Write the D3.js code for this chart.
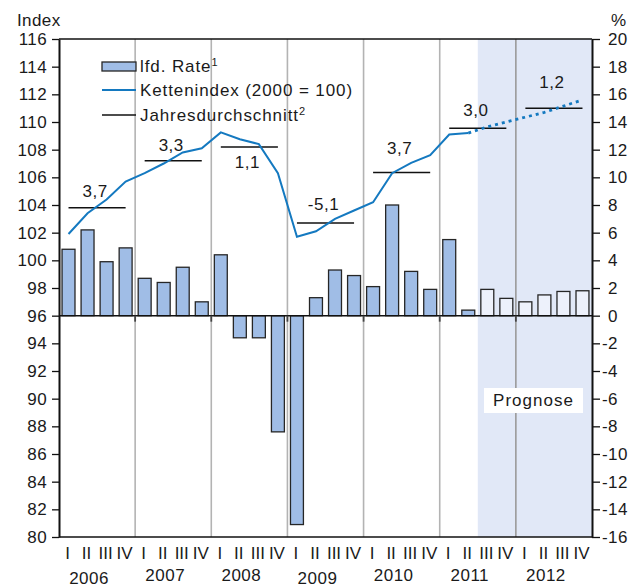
<!DOCTYPE html>
<html>
<head>
<meta charset="utf-8">
<script src="https://cdn.jsdelivr.net/npm/d3@7"></script>
<style>
  body { margin: 0; background: #fff; }
  svg text { font-family: "Liberation Sans", Arial, sans-serif; font-size: 17px; fill: #1a1a1a; }
</style>
</head>
<body>
<svg id="chart" width="634" height="587"></svg>
<script>
// data
const years = [2006, 2007, 2008, 2009, 2010, 2011, 2012]
const quarterNames = ["I", "II", "III", "IV"]
// lfd. Rate, % (annualised)
const rate = [4.8, 6.2, 3.9, 4.9,  2.7, 2.4, 3.5, 1.0,  4.4, -1.6, -1.6, -8.4,
              -15.1, 1.3, 3.3, 2.9,  2.1, 8.0, 3.2, 1.9,  5.5, 0.4, 1.9, 1.25,
              1.0, 1.5, 1.75, 1.8]
// Kettenindex (2000 = 100)
const chainIndex = [101.9, 103.4, 104.4, 105.7,  106.3, 107.0, 107.8, 108.1,
                    109.25, 108.75, 108.4, 106.3,  101.7, 102.1, 103.0, 103.6,
                    104.2, 106.3, 107.05, 107.6,  109.1, 109.2, 109.65, 110.0,
                    110.35, 110.7, 111.15, 111.6]
// Jahresdurchschnitt: level on the index axis and label
const annualLevel = [103.8, 107.2, 108.2, 102.7, 106.35, 109.55, 111.0]
const annualLabels = ["3,7", "3,3", "1,1", "-5,1", "3,7", "3,0", "1,2"]
const lastActual = 21      // 2011 Q2
const forecastStart = 22   // 2011 Q3
const indexTicks = d3.range(80, 117, 2)
const rateTicks = d3.range(-16, 21, 2)

const svg = d3.select("#chart")
const pl = 59, pr = 592, pt = 39, pb = 537
const nq = years.length * 4

const x = d3.scaleBand()
  .domain(d3.range(nq))
  .range([pl, pr])
  .paddingInner(0.32)
  .paddingOuter(0.16)
const xq = d3.scaleLinear().domain([0, nq]).range([pl, pr])
const yL = d3.scaleLinear().domain([80, 116]).range([pb, pt])
const yR = d3.scaleLinear().domain([-16, 20]).range([pb, pt])

// forecast shading
svg.append("rect")
  .attr("x", xq(forecastStart)).attr("y", pt)
  .attr("width", pr - xq(forecastStart)).attr("height", pb - pt)
  .attr("fill", "#e1e8f7")

// year dividers
svg.append("g")
  .selectAll("line")
  .data(years.slice(1)).enter()
  .append("line")
  .attr("x1", (d, i) => xq((i + 1) * 4)).attr("x2", (d, i) => xq((i + 1) * 4))
  .attr("y1", pt).attr("y2", pb)
  .attr("stroke", (d, i) => (i + 1) * 4 > forecastStart ? "#9a9a9a" : "#b3b3b3")
  .attr("stroke-width", 1.6)

// bars
svg.append("g")
  .selectAll("rect")
  .data(rate).enter()
  .append("rect")
  .attr("x", (d, i) => x(i))
  .attr("width", x.bandwidth())
  .attr("y", d => yR(Math.max(0, d)))
  .attr("height", d => Math.abs(yR(d) - yR(0)))
  .attr("fill", (d, i) => i >= forecastStart ? "#edf1fb" : "#a0bde6")
  .attr("stroke", "#262626")
  .attr("stroke-width", 1.3)

// zero line + small year ticks
svg.append("line")
  .attr("x1", pl).attr("x2", pr)
  .attr("y1", yR(0)).attr("y2", yR(0))
  .attr("stroke", "#111").attr("stroke-width", 1.5)
svg.append("g")
  .selectAll("line")
  .data(years.slice(1)).enter()
  .append("line")
  .attr("x1", (d, i) => xq((i + 1) * 4)).attr("x2", (d, i) => xq((i + 1) * 4))
  .attr("y1", yR(0)).attr("y2", yR(0) + 6)
  .attr("stroke", "#444").attr("stroke-width", 1.8)

// annual averages
svg.append("g")
  .selectAll("line")
  .data(annualLevel).enter()
  .append("line")
  .attr("x1", (d, i) => xq(i * 4 + 0.5)).attr("x2", (d, i) => xq(i * 4 + 3.5))
  .attr("y1", d => yL(d)).attr("y2", d => yL(d))
  .attr("stroke", "#111").attr("stroke-width", 1.5)

const labelShift = { 2006: -11, 2007: -10, 2008: 21, 2009: -13, 2010: -18, 2011: -12, 2012: -20 }
svg.append("g")
  .selectAll("text")
  .data(annualLabels).enter()
  .append("text")
  .attr("x", (d, i) => xq(i * 4 + 2) - 2)
  .attr("y", (d, i) => yL(annualLevel[i]) + labelShift[years[i]])
  .attr("text-anchor", "middle")
  .style("letter-spacing", "0.5px")
  .text(d => d)

// chain index line
const lineGen = d3.line()
  .x(d => xq(d[0] + 0.5))
  .y(d => yL(d[1]))
const pts = chainIndex.map((v, i) => [i, v])
svg.append("path")
  .attr("d", lineGen(pts.slice(0, lastActual + 1)))
  .attr("fill", "none").attr("stroke", "#1479c0").attr("stroke-width", 2)
svg.append("path")
  .attr("d", lineGen(pts.slice(lastActual)))
  .attr("fill", "none").attr("stroke", "#1479c0").attr("stroke-width", 2.8)
  .attr("stroke-dasharray", "3,4")

// frame
svg.append("line").attr("x1", pl).attr("x2", pr).attr("y1", pt).attr("y2", pt)
  .attr("stroke", "#111").attr("stroke-width", 1.5)
svg.append("line").attr("x1", pl).attr("x2", pr).attr("y1", pb).attr("y2", pb)
  .attr("stroke", "#111").attr("stroke-width", 1.5)

const fmt = d => String(d)
const axL = svg.append("g")
  .attr("transform", `translate(${pl},0)`)
  .call(d3.axisLeft(yL).tickValues(indexTicks).tickSize(7).tickSizeOuter(0).tickPadding(5).tickFormat(fmt))
const axR = svg.append("g")
  .attr("transform", `translate(${pr},0)`)
  .call(d3.axisRight(yR).tickValues(rateTicks).tickSize(8).tickSizeOuter(0).tickPadding(8).tickFormat(fmt))
svg.selectAll(".domain").attr("stroke", "#111").attr("stroke-width", 2)
svg.selectAll(".tick line").attr("stroke", "#111").attr("stroke-width", 1.3)
svg.selectAll(".tick text")
  .style("font-size", "17px")
  .style("font-family", '"Liberation Sans", Arial, sans-serif')
  .style("letter-spacing", "0.4px")
  .attr("fill", "#1a1a1a")
axR.selectAll(".tick text").attr("x", d => d < 0 ? 10 : 16)

// axis titles
svg.append("text").attr("x", 17).attr("y", 26).style("letter-spacing", "0.4px").text("Index")
svg.append("text").attr("x", 611).attr("y", 26).text("%")

// x labels
const quarters = years.flatMap(y => quarterNames.map(q => q))
svg.append("g")
  .selectAll("text")
  .data(quarters).enter()
  .append("text")
  .attr("x", (d, i) => xq(i + 0.5) - 1)
  .attr("y", 559)
  .attr("text-anchor", "middle")
  .text(d => d)
svg.append("g")
  .selectAll("text")
  .data(years).enter()
  .append("text")
  .attr("x", (d, i) => xq(i * 4 + 2) - 8)
  .attr("y", (d, i) => (d == 2006 || d == 2009) ? 584 : 581)
  .attr("text-anchor", "middle")
  .style("letter-spacing", "0.5px")
  .text(d => d)

// legend
const lg = svg.append("g")
lg.append("rect").attr("x", 102).attr("y", 62).attr("width", 34).attr("height", 9)
  .attr("fill", "#a0bde6").attr("stroke", "#262626").attr("stroke-width", 1.3)
lg.append("line").attr("x1", 102).attr("x2", 136).attr("y1", 90).attr("y2", 90)
  .attr("stroke", "#1479c0").attr("stroke-width", 2)
lg.append("line").attr("x1", 102).attr("x2", 136).attr("y1", 115).attr("y2", 115)
  .attr("stroke", "#111").attr("stroke-width", 1.5)
const legendItems = [["lfd. Rate", "1", 72], ["Kettenindex (2000 = 100)", "", 96], ["Jahresdurchschnitt", "2", 121]]
legendItems.forEach(([t, sup, yy]) => {
  const tx = lg.append("text").attr("x", 140).attr("y", yy).style("letter-spacing", "0.9px")
  tx.append("tspan").text(t)
  if (sup) tx.append("tspan").attr("dy", -6).style("font-size", "11px").text(sup)
})

// Prognose box
svg.append("rect").attr("x", 484).attr("y", 388).attr("width", 99).attr("height", 25).attr("fill", "#fff")
svg.append("text").attr("x", 533.5).attr("y", 406).attr("text-anchor", "middle")
  .style("letter-spacing", "1px").text("Prognose")
</script>
</body>
</html>
